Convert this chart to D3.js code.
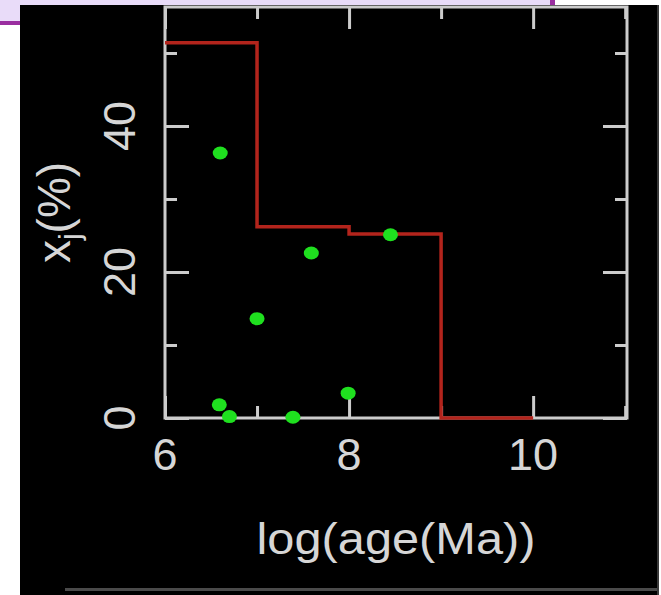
<!DOCTYPE html>
<html>
<head>
<meta charset="utf-8">
<script src="https://cdn.jsdelivr.net/npm/d3@7"></script>
<style>
  html, body { margin: 0; padding: 0; background: #ffffff; }
  svg { display: block; }
  text { font-family: "Liberation Sans", Arial, sans-serif; fill: #d6d6d6; }
</style>
</head>
<body>
<svg id="chart" width="661" height="595"></svg>
<script>
// ---- data ----
const stepAge = [6, 7, 8, 9, 10];
const stepPct = [51.4, 26.2, 25.2, 0, 0];
const ptAge = [6.60, 6.59, 6.70, 7.00, 7.39, 7.59, 7.99, 8.45];
const ptPct = [36.3, 1.8, 0.2, 13.6, 0.1, 22.6, 3.4, 25.1];
const xMajor = [6, 8, 10];
const xMinor = [7, 9, 11];
const yMajor = [0, 20, 40];
const yMinor = [10, 30, 50];
const xLabel = "log(age(Ma))";

const svg = d3.select("#chart");

// page decorations
svg.append("rect").attr("x", 0).attr("y", 0).attr("width", 553).attr("height", 6).attr("fill", "#e9dcf9");
svg.append("rect").attr("x", 0).attr("y", 0).attr("width", 20).attr("height", 22).attr("fill", "#e9dcf9");
svg.append("rect").attr("x", 0).attr("y", 21).attr("width", 20).attr("height", 4).attr("fill", "#9a2ea0");
svg.append("rect").attr("x", 550).attr("y", 0).attr("width", 5).attr("height", 6).attr("fill", "#9a2ea0");
svg.append("rect").attr("x", 20).attr("y", 5).attr("width", 637).attr("height", 590).attr("fill", "#000000");
svg.append("rect").attr("x", 657).attr("y", 5).attr("width", 2).attr("height", 590).attr("fill", "#3a3a3a");
svg.append("rect").attr("x", 65).attr("y", 588).attr("width", 592).attr("height", 3).attr("fill", "#4a4a4a");

// scales
const x = d3.scaleLinear().domain([6, 11.02]).range([165, 627]);
const y = d3.scaleLinear().domain([0, 56.3]).range([418, 7]);

const axisColor = "#cccccc";
function styleAxis(g) {
  g.select(".domain").remove();
  g.selectAll(".tick line").attr("stroke", axisColor).attr("stroke-width", 3);
  g.selectAll(".tick text").remove();
}

// ticks (inward)
svg.append("g").attr("transform", "translate(0,418)")
  .call(d3.axisTop(x).tickValues(xMajor).tickSize(22)).call(styleAxis);
svg.append("g").attr("transform", "translate(0,418)")
  .call(d3.axisTop(x).tickValues(xMinor).tickSize(12)).call(styleAxis);
svg.append("g").attr("transform", "translate(0,7)")
  .call(d3.axisBottom(x).tickValues(xMajor).tickSize(22)).call(styleAxis);
svg.append("g").attr("transform", "translate(0,7)")
  .call(d3.axisBottom(x).tickValues(xMinor).tickSize(12)).call(styleAxis);
svg.append("g").attr("transform", "translate(165,0)")
  .call(d3.axisRight(y).tickValues(yMajor).tickSize(24)).call(styleAxis);
svg.append("g").attr("transform", "translate(165,0)")
  .call(d3.axisRight(y).tickValues(yMinor).tickSize(12)).call(styleAxis);
svg.append("g").attr("transform", "translate(627,0)")
  .call(d3.axisLeft(y).tickValues(yMajor).tickSize(24)).call(styleAxis);
svg.append("g").attr("transform", "translate(627,0)")
  .call(d3.axisLeft(y).tickValues(yMinor).tickSize(12)).call(styleAxis);

// frame
svg.append("rect")
  .attr("x", x(6)).attr("y", y(56.3))
  .attr("width", x(11.02) - x(6)).attr("height", y(0) - y(56.3))
  .attr("fill", "none").attr("stroke", axisColor).attr("stroke-width", 3);

// tick labels
svg.append("g").selectAll("text").data(xMajor).join("text")
  .attr("x", d => x(d)).attr("y", 470)
  .attr("text-anchor", "middle").attr("font-size", 45)
  .text(d => d);
svg.append("g").selectAll("text").data(yMajor).join("text")
  .attr("transform", d => `translate(135,${y(d)}) rotate(-90)`)
  .attr("text-anchor", "middle").attr("font-size", 45)
  .text(d => d);

// axis titles
svg.append("text")
  .attr("x", (x(6) + x(11.02)) / 2).attr("y", 554)
  .attr("text-anchor", "middle").attr("font-size", 44)
  .attr("textLength", 279).attr("lengthAdjust", "spacingAndGlyphs")
  .text(xLabel);
const yt = svg.append("text")
  .attr("transform", `translate(70,${(y(0) + y(56.3)) / 2}) rotate(-90)`)
  .attr("text-anchor", "middle").attr("font-size", 46);
yt.append("tspan").text("x");
yt.append("tspan").attr("font-size", 30).attr("dy", 10).text("j");
yt.append("tspan").attr("dy", -10).text("(%)");

// step line
const line = d3.line().x((d, i) => x(stepAge[i])).y(d => y(d)).curve(d3.curveStepAfter);
svg.append("path").datum(stepPct)
  .attr("d", line)
  .attr("fill", "none").attr("stroke", "#b3241c").attr("stroke-width", 3.5);

// points
svg.append("g").selectAll("ellipse").data(ptAge).join("ellipse")
  .attr("cx", d => x(d)).attr("cy", (d, i) => y(ptPct[i]))
  .attr("rx", 7.5).attr("ry", 6.5)
  .attr("fill", "#1fe01f");
</script>
</body>
</html>
